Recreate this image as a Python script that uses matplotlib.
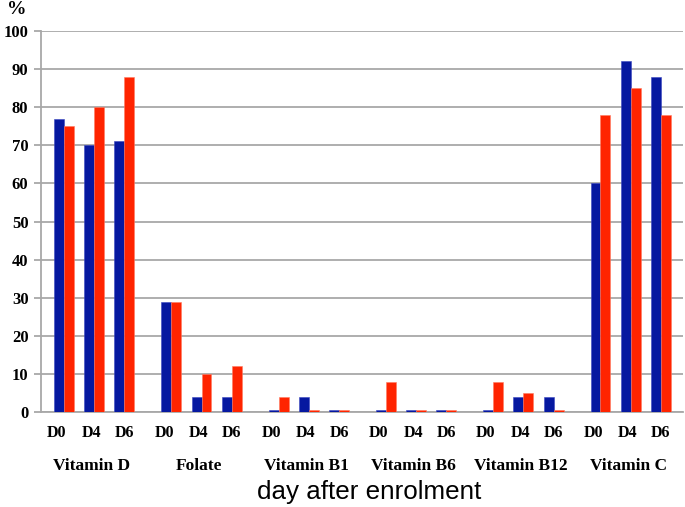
import matplotlib.pyplot as plt
import numpy as np

vitamins = ['Vitamin D', 'Folate', 'Vitamin B1', 'Vitamin B6', 'Vitamin B12', 'Vitamin C']
days = ['D0', 'D4', 'D6']

# values per vitamin, one row per vitamin, columns D0/D4/D6
blue_vals = [[77, 70, 71],
             [29, 4, 4],
             [0.5, 4, 0.5],
             [0.5, 0.5, 0.5],
             [0.5, 4, 4],
             [60, 92, 88]]
red_vals = [[75, 80, 88],
            [29, 10, 12],
            [4, 0.5, 0.5],
            [8, 0.5, 0.5],
            [8, 5, 0.5],
            [78, 85, 78]]

blue = '#0618A0'
red = '#FF2400'
grid_col = '#A8A8A8'

fig = plt.figure(figsize=(6.85, 5.07), dpi=100)
ax = fig.add_axes([41 / 685, 1 - 412 / 507, 642 / 685, 381 / 507])

group_step = 3.55
w = 0.33
xs = np.array([g * group_step + d for g in range(len(vitamins)) for d in range(len(days))])
b = np.array(blue_vals).ravel()
r = np.array(red_vals).ravel()

ax.bar(xs - w / 2, b, width=w, color=blue, edgecolor='#3a46c0', linewidth=0.4, zorder=3)
ax.bar(xs + w / 2, r, width=w, color=red, edgecolor='#ff7a60', linewidth=0.4, zorder=3)

ax.set_xlim(-0.76, 5 * group_step + 2 + 0.73)
ax.set_ylim(0, 100)
ax.set_yticks(range(0, 101, 10))
ax.yaxis.grid(True, color=grid_col, linewidth=1.3, zorder=0)
ax.set_axisbelow(True)

for s in ['top', 'right']:
    ax.spines[s].set_visible(False)
ax.spines['left'].set_color(grid_col)
ax.spines['bottom'].set_color(grid_col)
ax.spines['left'].set_linewidth(1.3)
ax.spines['bottom'].set_linewidth(1.3)

serif = 'Liberation Serif'
ax.tick_params(axis='y', length=5, width=1.3, color=grid_col, pad=4)
for lab in ax.get_yticklabels():
    lab.set_fontfamily(serif)
    lab.set_fontweight('bold')
    lab.set_fontsize(12)

# day labels under each pair (slightly shifted as in the original)
shift = {'D0': -0.24, 'D4': -0.1, 'D6': 0.0}
ax.set_xticks([])
tr = ax.get_xaxis_transform()
for g, vit in enumerate(vitamins):
    for d, day in enumerate(days):
        x = g * group_step + d
        ax.text(x + shift[day], -21 / 381, day, transform=tr, ha='center', va='center',
                fontfamily=serif, fontweight='bold', fontsize=11.5)
    ax.text(g * group_step + 1 - 0.08, -54 / 381, vit, transform=tr, ha='center', va='center',
            fontfamily=serif, fontweight='bold', fontsize=12.5)

fig.text(369 / 685, 1 - 492 / 507, 'day after enrolment', ha='center',
         va='center', fontfamily='Liberation Sans', fontsize=18.7)
fig.text(17 / 685, 1 - 10 / 507, '%', ha='center', va='center',
         fontfamily=serif, fontweight='bold', fontsize=14)

fig.savefig('out.png', dpi=100)
